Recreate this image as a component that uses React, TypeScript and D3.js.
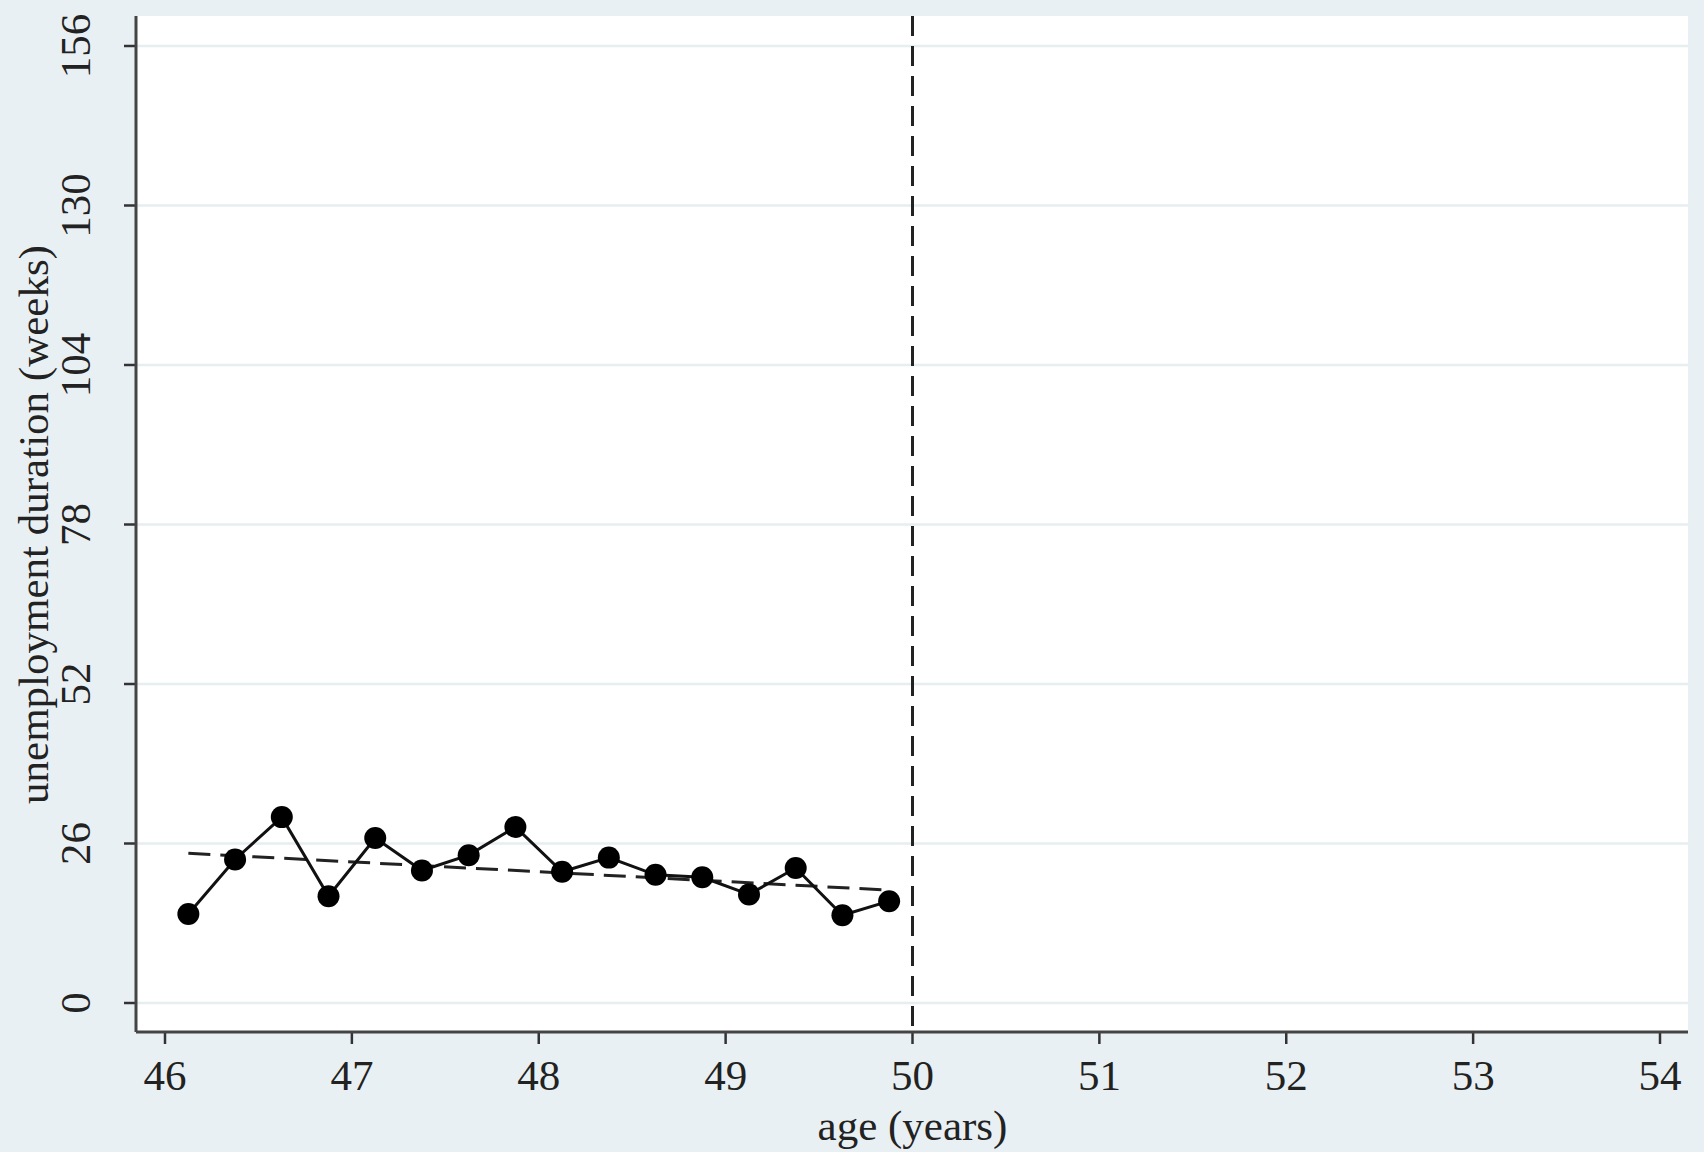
import React from "react";
import * as d3 from "d3";

const ages = [46.125, 46.375, 46.625, 46.875, 47.125, 47.375, 47.625, 47.875, 48.125, 48.375, 48.625, 48.875, 49.125, 49.375, 49.625, 49.875];
const durations = [14.5, 23.4, 30.3, 17.4, 26.9, 21.6, 24.1, 28.7, 21.4, 23.7, 20.9, 20.5, 17.7, 22.0, 14.3, 16.6];
const trendX = [46.125, 49.875];
const trendY = [24.4, 18.4];
const xTicks = [46, 47, 48, 49, 50, 51, 52, 53, 54];
const yTicks = [0, 26, 52, 78, 104, 130, 156];
const cutoff = 50;

export default function App() {
  const W = 1704, H = 1152;
  const left = 136, right = 1688, top = 16, bottom = 1032;
  const x = d3.scaleLinear().domain([46, 54]).range([165, 1660]);
  const y = d3.scaleLinear().domain([0, 156]).range([1003, 46]);
  const line = d3.line<number>().x((_, i) => x(ages[i])).y((d) => y(d));
  const font = "'Liberation Serif', 'Times New Roman', serif";
  const fs = 43;
  return (
    <svg width={W} height={H} style={{ position: "absolute", left: 0, top: 0 }} fontFamily={font}>
      <rect width={W} height={H} fill="#e9f0f3" />
      <rect x={left} y={top} width={right - left} height={bottom - top} fill="#ffffff" />
      {yTicks.map((t) => (
        <g key={t}>
          <line x1={left} x2={right} y1={y(t)} y2={y(t)} stroke="#e6eef0" strokeWidth={2.5} />
          <line x1={left - 12} x2={left} y1={y(t)} y2={y(t)} stroke="#333" strokeWidth={2.5} />
          <text transform={`translate(${90},${y(t)}) rotate(-90)`} textAnchor="middle" fontSize={fs} fill="#222">{t}</text>
        </g>
      ))}
      {xTicks.map((t) => (
        <g key={t}>
          <line x1={x(t)} x2={x(t)} y1={bottom} y2={bottom + 12} stroke="#333" strokeWidth={2.5} />
          <text x={x(t)} y={1090} textAnchor="middle" fontSize={fs} fill="#222">{t}</text>
        </g>
      ))}
      <line x1={left} x2={left} y1={top} y2={bottom} stroke="#444" strokeWidth={3} />
      <line x1={left} x2={right} y1={bottom} y2={bottom} stroke="#444" strokeWidth={3} />
      <line x1={x(cutoff)} x2={x(cutoff)} y1={top} y2={bottom} stroke="#222" strokeWidth={3} strokeDasharray="20,10" />
      <line x1={x(trendX[0])} x2={x(trendX[1])} y1={y(trendY[0])} y2={y(trendY[1])} stroke="#222" strokeWidth={3} strokeDasharray="22,10" />
      <path d={line(durations) || ""} fill="none" stroke="#111" strokeWidth={3} />
      {durations.map((d, i) => (
        <circle key={i} cx={x(ages[i])} cy={y(d)} r={11} fill="#000" />
      ))}
      <text x={x(50)} y={1140} textAnchor="middle" fontSize={fs} fill="#222">age (years)</text>
      <text transform={`translate(${48},${(y(0) + y(156)) / 2 + 0}) rotate(-90)`} textAnchor="middle" fontSize={fs} fill="#222">unemployment duration (weeks)</text>
    </svg>
  );
}
